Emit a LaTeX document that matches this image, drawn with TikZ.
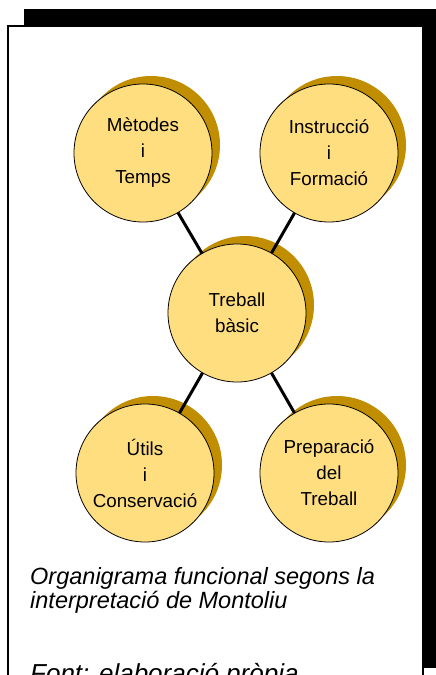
\documentclass[tikz,border=0pt]{standalone}
\usepackage{fontspec}
\setmainfont{Liberation Sans}
\definecolor{fillY}{HTML}{FFDE80}
\definecolor{shadowG}{HTML}{C08E00}
\pgfdeclarelayer{bg}
\pgfdeclarelayer{mid}
\pgfsetlayers{bg,mid,main}
\tikzset{
  bub/.style={circle, draw=black, line width=0.8pt, fill=fillY, minimum size=138pt,
    inner sep=0pt, align=center, font=\fontsize{18.8}{26}\selectfont},
  bubshadow/.style={circle, fill=shadowG, minimum size=138pt, inner sep=0pt},
  link/.style={line width=3pt, black},
  captext/.style={anchor=base west, inner sep=0pt, font=\itshape\fontsize{23.5}{26}\selectfont},
}
\begin{document}
\begin{tikzpicture}[x=1pt,y=-1pt]
\useasboundingbox (0,0) rectangle (436,675);
\clip (0,0) rectangle (436,675);
\begin{pgfonlayer}{bg}
  \fill[black] (24,9) rectangle (460,668);
  \draw[line width=2pt, fill=white] (8.3,26) rectangle (423,700);
  \node[bubshadow] (ms) at (151,145) {};
  \node[bubshadow] (is) at (337,145) {};
  \node[bubshadow] (ts) at (245,305) {};
  \node[bubshadow] (us) at (153,465) {};
  \node[bubshadow] (ps) at (337,465) {};
\end{pgfonlayer}
\node[bub] (m) at (143,153) {Mètodes\\i\\Temps};
\node[bub] (i) at (329,153) {Instrucció\\i\\Formació};
\node[bub] (t) at (237,313) {Treball\\bàsic};
\node[bub] (u) at (145,473) {Útils\\i\\Conservació};
\node[bub] (p) at (329,473) {Preparació\\del\\Treball};
\begin{pgfonlayer}{mid}
  \draw[link] (m.center) -- (t.center);
  \draw[link] (i.center) -- (t.center);
  \draw[link] (u.center) -- (t.center);
  \draw[link] (p.center) -- (t.center);
\end{pgfonlayer}
\node[captext] (c1) at (30,584) {Organigrama funcional segons la};
\node[captext] (c2) at (30,608) {interpretació de Montoliu};
\node[captext, font=\itshape\fontsize{26}{28}\selectfont] (c3) at (30,682) {Font: elaboració pròpia};
\end{tikzpicture}
\end{document}
